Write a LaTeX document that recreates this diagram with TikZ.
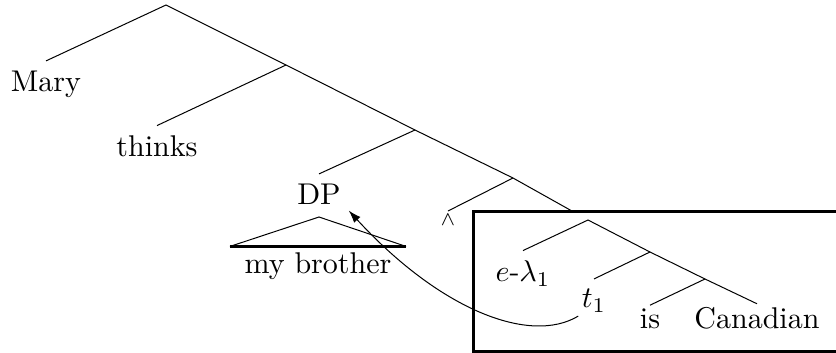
\documentclass[tikz,border=0pt]{standalone}
\usetikzlibrary{arrows.meta}

\begin{document}
\begin{tikzpicture}[x=0.4pt,y=-0.4pt,
    leaf/.style={anchor=base,scale=1.2,transform shape},
    lowleaf/.style={leaf,inner ysep=0.83pt},
    roofleaf/.style={leaf,inner xsep=4.67pt,inner ysep=1.83pt,text height=6.83pt},
    frame/.style={draw,line width=1.1pt,anchor=north west,inner sep=0pt,minimum width=156pt,minimum height=55.7pt}]
  \useasboundingbox (0,0) rectangle (836,353);
  % main tree
  \coordinate (root) at (166,5);
  \coordinate (n1) at (286,65);
  \coordinate (n2) at (415,130);
  \coordinate (n3) at (513,178);
  \node[leaf] (mary) at (46,92) {Mary};
  \node[leaf] (thinks) at (157,157) {thinks};
  \node[leaf] (dp) at (319,205) {DP};
  \node[anchor=north,inner sep=1pt,font=\fontsize{8}{9}\selectfont] (hat) at (448,211) {$\wedge$};
  \coordinate (roof) at (319,217);
  \node[roofleaf] (brother) at (318,273) {my brother};
  \draw (mary.north) -- (root) -- (n1);
  \draw (thinks.north) -- (n1) -- (n2);
  \draw (dp.north) -- (n2) -- (n3);
  \draw (hat.north) -- (n3);
  \draw (brother.north west) -- (roof) -- (brother.north east);
  \draw[line width=1.1pt] (brother.north west) -- (brother.north east);
  % boxed subtree
  \node[frame] (box) at (472,210.5) {};
  \coordinate (b0) at (588,220);
  \coordinate (b1) at (650,252);
  \coordinate (b2) at (705,279);
  \node[leaf] (elam) at (523,282) {$e$-$\lambda_1$};
  \node[leaf] (t1) at (594,308) {$t_1$};
  \node[lowleaf] (is) at (650,328) {is};
  \node[lowleaf] (can) at (757,328) {Canadian};
  \draw[shorten >=6.5pt] (n3) -- (b0);
  \draw (elam.north) -- (b0) -- (b1);
  \draw (t1.north) -- (b1) -- (b2);
  \draw (is.north) -- (b2) -- (can.north);
  % movement
  \draw[-{Latex[length=5pt,width=3.4pt]}] ([shift={(2.8pt,2.8pt)}]t1.south west) .. controls (530,345) and (440,310) .. ([shift={(-1pt,2pt)}]dp.south east);
\end{tikzpicture}
\end{document}
